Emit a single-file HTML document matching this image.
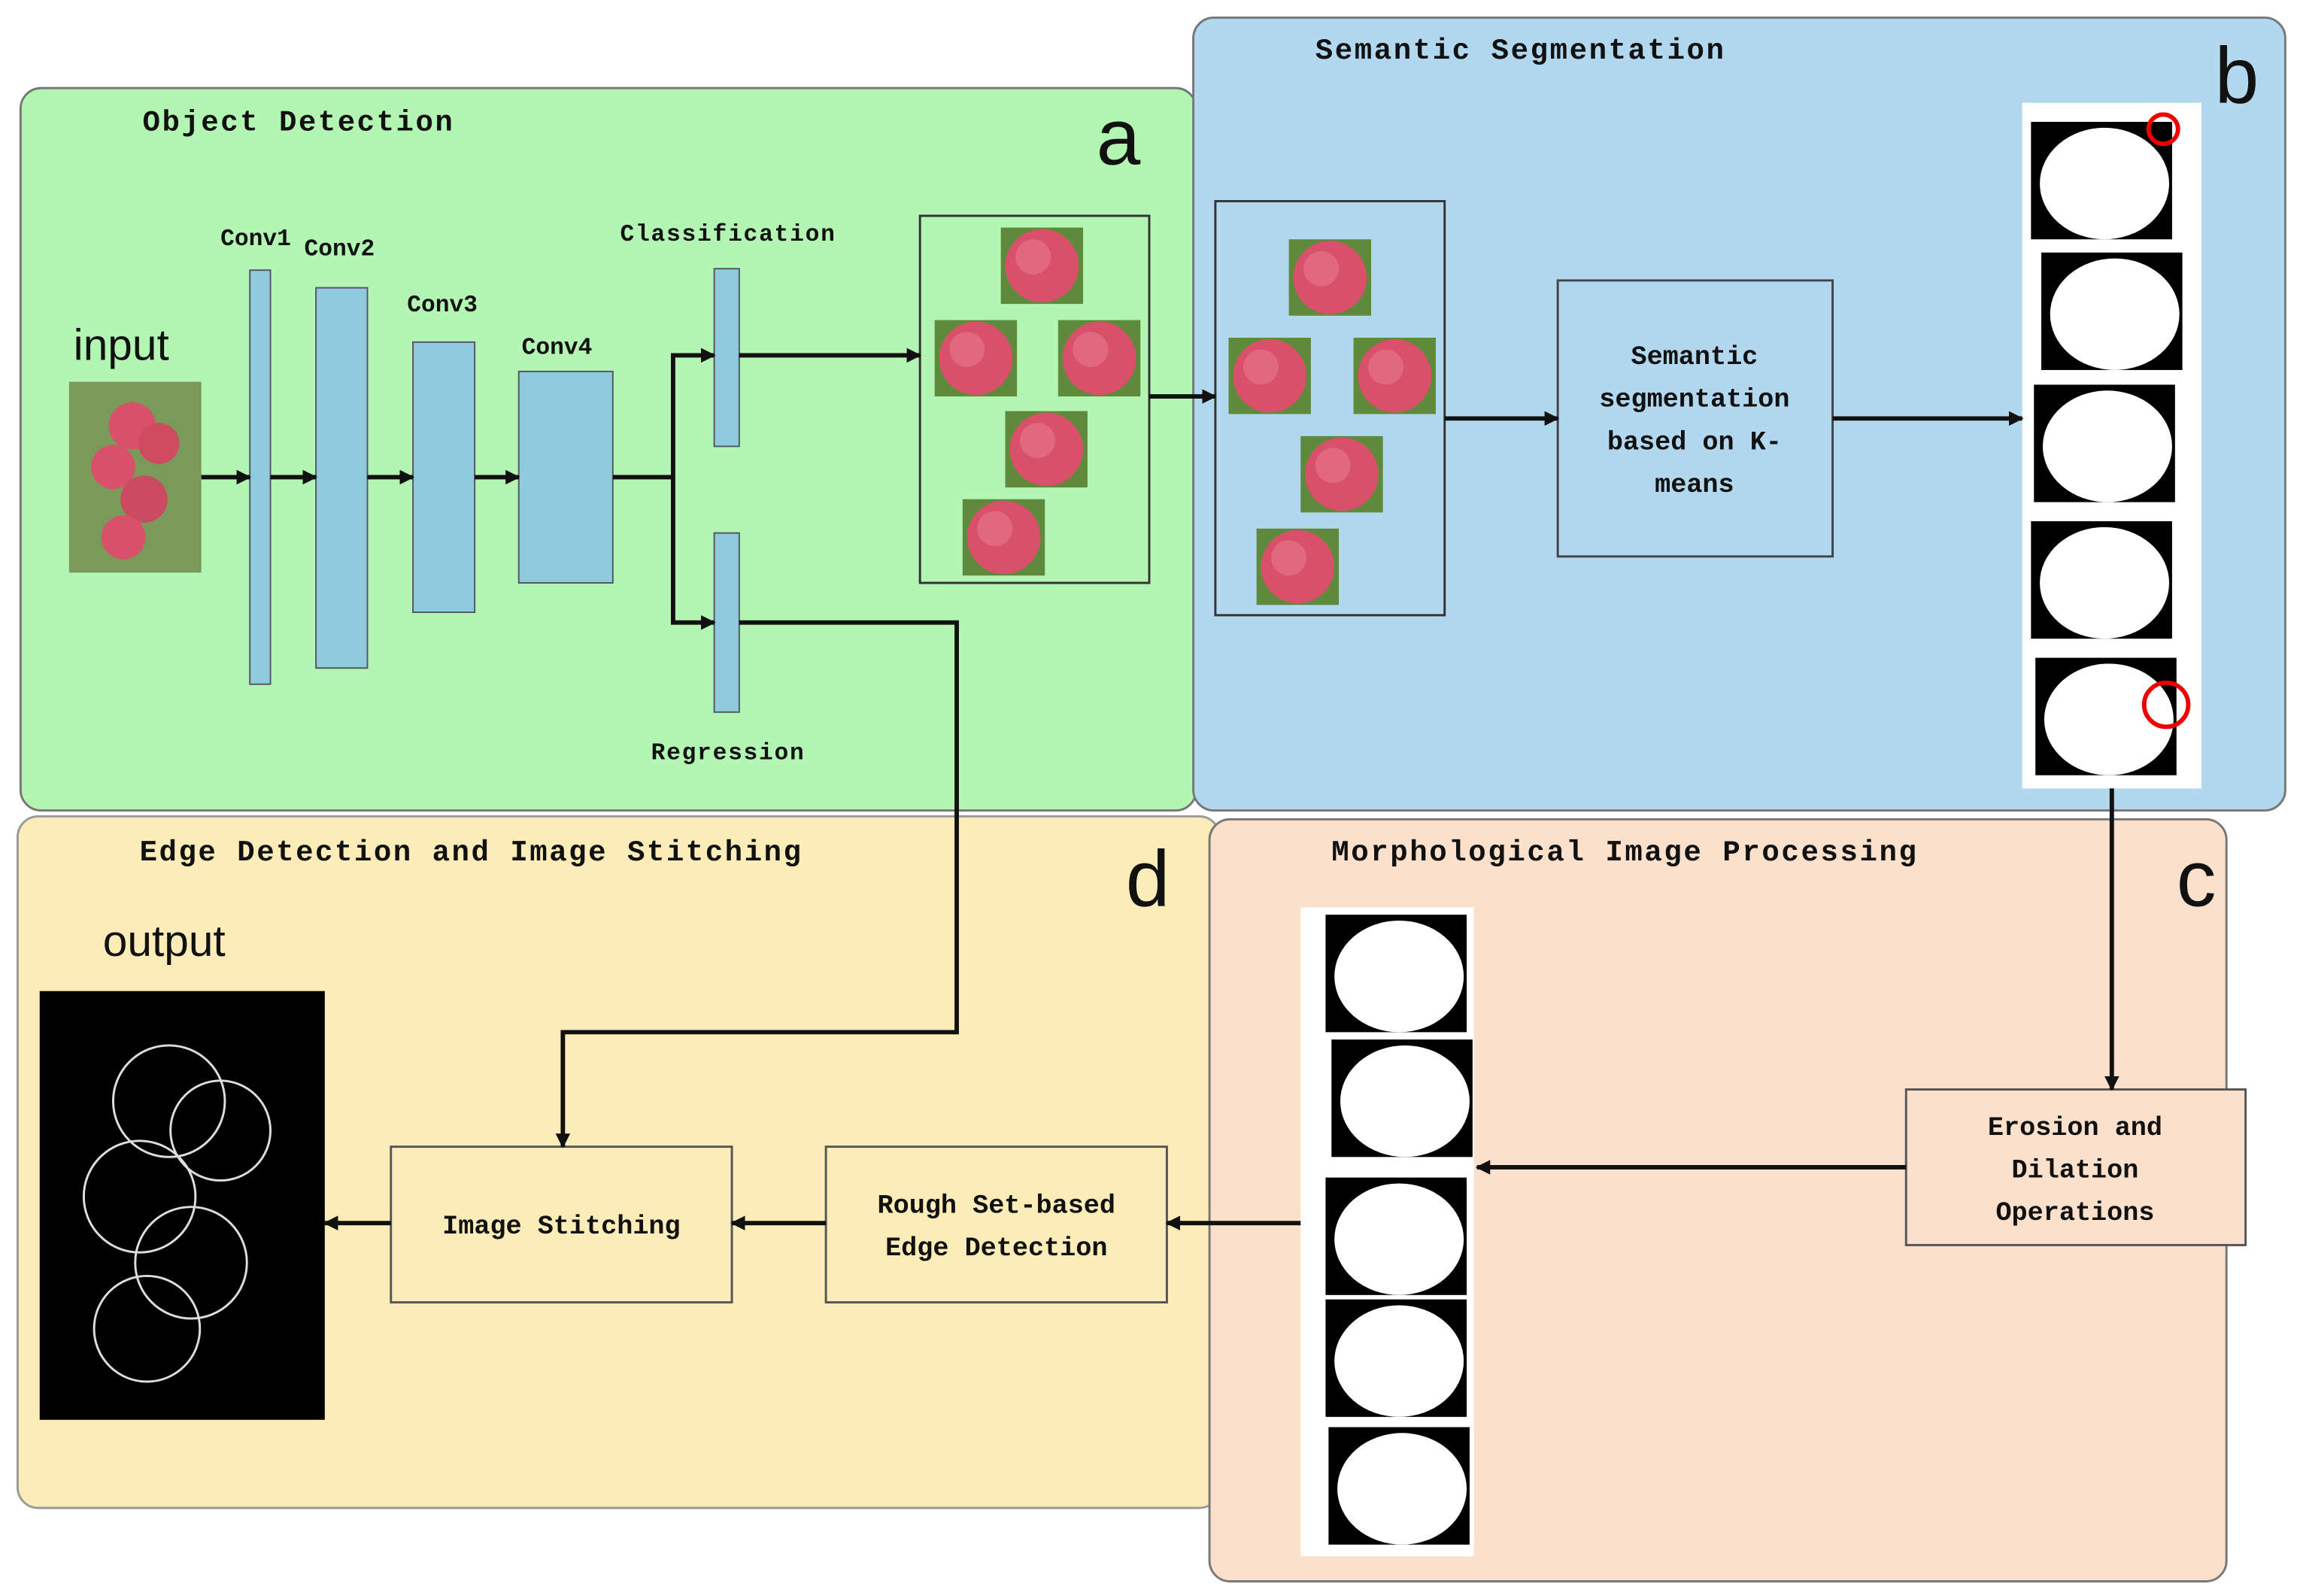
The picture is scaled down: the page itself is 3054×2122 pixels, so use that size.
<!DOCTYPE html>
<html><head><meta charset="utf-8"><style>
html,body{margin:0;padding:0;background:#fff;}
svg{display:block;}
.t{font-family:"Liberation Mono",monospace;font-weight:bold;fill:#111;}
.s{font-family:"Liberation Sans",sans-serif;fill:#111;}
</style></head><body>
<svg width="3054" height="2122" viewBox="0 0 1563 1087" preserveAspectRatio="none" xmlns="http://www.w3.org/2000/svg">
<defs>
<marker id="ar" markerWidth="10" markerHeight="10" refX="9" refY="5" orient="auto" markerUnits="userSpaceOnUse"><path d="M0,0 L10,5 L0,10 Z" fill="#111"/></marker>
<g id="apple"><rect x="-28" y="-26" width="56" height="52" fill="#5f8a3c"/><circle r="25" fill="#d9506a"/><circle cx="-6" cy="-6" r="12" fill="#e87890" opacity="0.6"/></g>
<g id="mask"><rect x="-48" y="-40" width="96" height="80" fill="#000"/><ellipse cx="2" cy="2" rx="44" ry="38" fill="#fff"/></g>
</defs>
<rect width="1563" height="1087" fill="#fff"/>
<rect x="14" y="60" width="800" height="492" rx="14" fill="#b3f5b3" stroke="#777" stroke-width="1.5"/>
<rect x="12" y="556" width="818" height="471" rx="14" fill="#fbecb8" stroke="#999" stroke-width="1.5"/>
<rect x="812" y="12" width="743" height="540" rx="14" fill="#b1d8ee" stroke="#777" stroke-width="1.5"/>
<rect x="823" y="558" width="692" height="519" rx="14" fill="#fbe0cc" stroke="#777" stroke-width="1.5"/>
<text x="97" y="89" class="t" font-size="20" textLength="211">Object Detection</text>
<text x="895" y="40" class="t" font-size="20" textLength="278">Semantic Segmentation</text>
<text x="95" y="586" class="t" font-size="20" textLength="450">Edge Detection and Image Stitching</text>
<text x="906" y="586" class="t" font-size="20" textLength="398">Morphological Image Processing</text>
<text x="746" y="112" class="s" font-size="54">a</text>
<text x="1507" y="70" class="s" font-size="54">b</text>
<text x="1481" y="617" class="s" font-size="54">c</text>
<text x="766" y="617" class="s" font-size="54">d</text>
<text x="50" y="245" class="s" font-size="30">input</text>
<text x="70" y="651" class="s" font-size="30">output</text>
<g fill="#8fcbdc" stroke="#556" stroke-width="1">
<rect x="170" y="184" width="14" height="282"/>
<rect x="215" y="196" width="35" height="259"/>
<rect x="281" y="233" width="42" height="184"/>
<rect x="353" y="253" width="64" height="144"/>
<rect x="486" y="183" width="17" height="121"/>
<rect x="486" y="363" width="17" height="122"/>
</g>
<text x="150" y="167" class="t" font-size="16">Conv1</text>
<text x="207" y="174" class="t" font-size="16">Conv2</text>
<text x="277" y="212" class="t" font-size="16">Conv3</text>
<text x="355" y="241" class="t" font-size="16">Conv4</text>
<text x="422" y="164" class="t" font-size="16" textLength="146">Classification</text>
<text x="443" y="517" class="t" font-size="16" textLength="104">Regression</text>
<rect x="47" y="260" width="90" height="130" fill="#7a9a5a"/>
<circle cx="90" cy="290" r="16" fill="#d9506a"/><circle cx="108" cy="302" r="14" fill="#d04a60"/>
<circle cx="77" cy="318" r="15" fill="#d9506a"/><circle cx="98" cy="340" r="16" fill="#cc4a62"/>
<circle cx="84" cy="366" r="15" fill="#d9506a"/>
<rect x="27" y="675" width="194" height="292" fill="#000"/>
<g fill="none" stroke="#ddd" stroke-width="1.5">
<circle cx="115" cy="750" r="38"/><circle cx="150" cy="770" r="34"/><circle cx="95" cy="815" r="38"/><circle cx="130" cy="860" r="38"/><circle cx="100" cy="905" r="36"/>
</g>
<rect x="626" y="147" width="156" height="250" fill="none" stroke="#333" stroke-width="1.5"/>
<use href="#apple" x="709" y="181"/><use href="#apple" x="664" y="244"/><use href="#apple" x="748" y="244"/><use href="#apple" x="712" y="306"/><use href="#apple" x="683" y="366"/>
<rect x="827" y="137" width="156" height="282" fill="none" stroke="#333" stroke-width="1.5"/>
<use href="#apple" x="905" y="189"/><use href="#apple" x="864" y="256"/><use href="#apple" x="949" y="256"/><use href="#apple" x="913" y="323"/><use href="#apple" x="883" y="386"/>
<rect x="1060" y="191" width="187" height="188" fill="#b1d8ee" stroke="#444" stroke-width="1.5"/>
<g class="t" font-size="18" text-anchor="middle"><text x="1153" y="248">Semantic</text><text x="1153" y="277">segmentation</text><text x="1153" y="306">based on K-</text><text x="1153" y="335">means</text></g>
<rect x="1376" y="70" width="122" height="467" fill="#fff"/>
<use href="#mask" x="1430" y="123"/><use href="#mask" x="1437" y="212"/><use href="#mask" x="1432" y="302"/><use href="#mask" x="1430" y="395"/><use href="#mask" x="1433" y="488"/>
<circle cx="1472" cy="88" r="10" fill="none" stroke="#e00" stroke-width="3"/>
<circle cx="1474" cy="480" r="15" fill="none" stroke="#e00" stroke-width="3"/>
<rect x="885" y="618" width="118" height="442" fill="#fff"/>
<use href="#mask" x="950" y="663"/><use href="#mask" x="954" y="748"/><use href="#mask" x="950" y="842"/><use href="#mask" x="950" y="925"/><use href="#mask" x="952" y="1012"/>
<rect x="1297" y="742" width="231" height="106" fill="#fbe0cc" stroke="#555" stroke-width="1.5"/>
<g class="t" font-size="18" text-anchor="middle"><text x="1412" y="773">Erosion and</text><text x="1412" y="802">Dilation</text><text x="1412" y="831">Operations</text></g>
<rect x="562" y="781" width="232" height="106" fill="#fbecb8" stroke="#555" stroke-width="1.5"/>
<g class="t" font-size="18" text-anchor="middle"><text x="678" y="826">Rough Set-based</text><text x="678" y="855">Edge Detection</text></g>
<rect x="266" y="781" width="232" height="106" fill="#fbecb8" stroke="#555" stroke-width="1.5"/>
<text x="382" y="840" class="t" font-size="18" text-anchor="middle">Image Stitching</text>
<g stroke="#111" stroke-width="3" fill="none" marker-end="url(#ar)">
<line x1="137" y1="325" x2="170" y2="325"/>
<line x1="184" y1="325" x2="215" y2="325"/>
<line x1="250" y1="325" x2="281" y2="325"/>
<line x1="323" y1="325" x2="353" y2="325"/>
<polyline points="417,325 458,325 458,242 486,242"/>
<polyline points="458,325 458,424 486,424"/>
<line x1="503" y1="242" x2="626" y2="242"/>
<line x1="782" y1="270" x2="827" y2="270"/>
<line x1="983" y1="285" x2="1060" y2="285"/>
<line x1="1247" y1="285" x2="1376" y2="285"/>
<line x1="1437" y1="537" x2="1437" y2="742"/>
<line x1="1297" y1="795" x2="1005" y2="795"/>
<line x1="885" y1="833" x2="794" y2="833"/>
<line x1="562" y1="833" x2="498" y2="833"/>
<line x1="266" y1="833" x2="221" y2="833"/>
<polyline points="503,424 651,424 651,703 383,703 383,781"/>
</g>
</svg>
</body></html>
